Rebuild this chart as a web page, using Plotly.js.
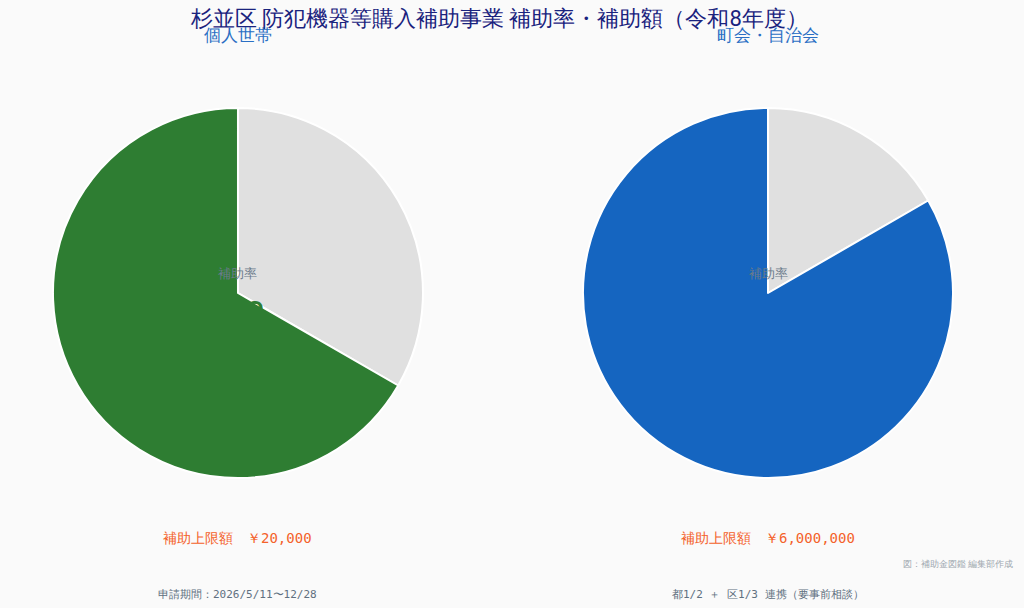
<!DOCTYPE html>
<html lang="ja">
<head>
  <meta charset="UTF-8">
  <title>杉並区 防犯機器等購入補助事業</title>
  <script src="https://cdn.plot.ly/plotly-3.0.1.min.js" charset="utf-8"></script>
  <style>
    body { margin: 0; background: #fafafa; }
    #chart { width: 1024px; height: 608px; }
  </style>
</head>
<body>
  <div id="chart"></div>
  <script>
    // data (self-pay slice first so the subsidy slice sits on the left)
    var groups = ["個人世帯", "町会・自治会"];
    var sliceLabels = ["自己負担", "補助"];
    var personalValues = [1, 2];   // 補助率 2/3
    var townValues = [1, 5];       // 都1/2 + 区1/3 = 5/6
    var rateText = ["2/3", "5/6"];
    var limitText = ["補助上限額　￥20,000", "補助上限額　￥6,000,000"];
    var noteText = ["申請期間：2026/5/11〜12/28", "都1/2 ＋ 区1/3 連携（要事前相談）"];
    var mainColors = ["#2e7d32", "#1565c0"];
    var restColor = "#e0e0e0";

    var font = "Roboto, sans-serif";
    var monoFont = "DejaVu Sans Mono, monospace";
    var centers = [0.2324, 0.75];

    var data = [
      {
        type: "pie", values: personalValues, labels: sliceLabels, name: groups[0],
        domain: {x: [0, 0.4648], y: [0, 1]},
        sort: false, direction: "counterclockwise", rotation: 0,
        marker: {colors: [restColor, mainColors[0]], line: {color: "#ffffff", width: 2}},
        textinfo: "none", hoverinfo: "label+percent"
      },
      {
        type: "pie", values: townValues, labels: sliceLabels, name: groups[1],
        domain: {x: [0.535, 0.965], y: [0, 1]},
        sort: false, direction: "counterclockwise", rotation: 0,
        marker: {colors: [restColor, mainColors[1]], line: {color: "#ffffff", width: 2}},
        textinfo: "none", hoverinfo: "label+percent"
      }
    ];

    function note(x, y, text, f, anchor) {
      return {x: x, y: y, xref: "paper", yref: "paper", showarrow: false,
        xanchor: anchor || "center", yanchor: "middle", text: text, font: f};
    }

    var annotations = [];
    for (var i = 0; i < 2; i++) {
      annotations.push(note(centers[i], 1.197, groups[i], {family: font, size: 17, color: "#2a6fc4"}));
      annotations.push(note(centers[i], 0.554, "補助率", {family: font, size: 13, color: "#6b7b8b"}));
      annotations.push(note(centers[i], 0.44, rateText[i], {family: font, size: 36, color: mainColors[i]}));
      annotations.push(note(centers[i], -0.162, limitText[i], {family: monoFont, size: 14, color: "#f4622a"}));
      annotations.push(note(centers[i], -0.316, noteText[i], {family: monoFont, size: 11, color: "#607080"}));
    }
    annotations.push(note(0.991, -0.232, "図：補助金図鑑 編集部作成", {family: font, size: 9, color: "#a0a8b0"}, "right"));

    var layout = {
      width: 1024, height: 608,
      title: {text: "杉並区 防犯機器等購入補助事業 補助率・補助額（令和8年度）",
        x: 0.4875, xref: "container", xanchor: "center",
        y: 0.97, yref: "container", yanchor: "middle",
        font: {family: font, size: 22, color: "#1a237e"}},
      margin: {l: 0, r: 0, t: 108, b: 130},
      paper_bgcolor: "#fafafa", plot_bgcolor: "#fafafa",
      showlegend: false,
      annotations: annotations
    };

    Plotly.newPlot("chart", data, layout, {displayModeBar: false});
  </script>
</body>
</html>
